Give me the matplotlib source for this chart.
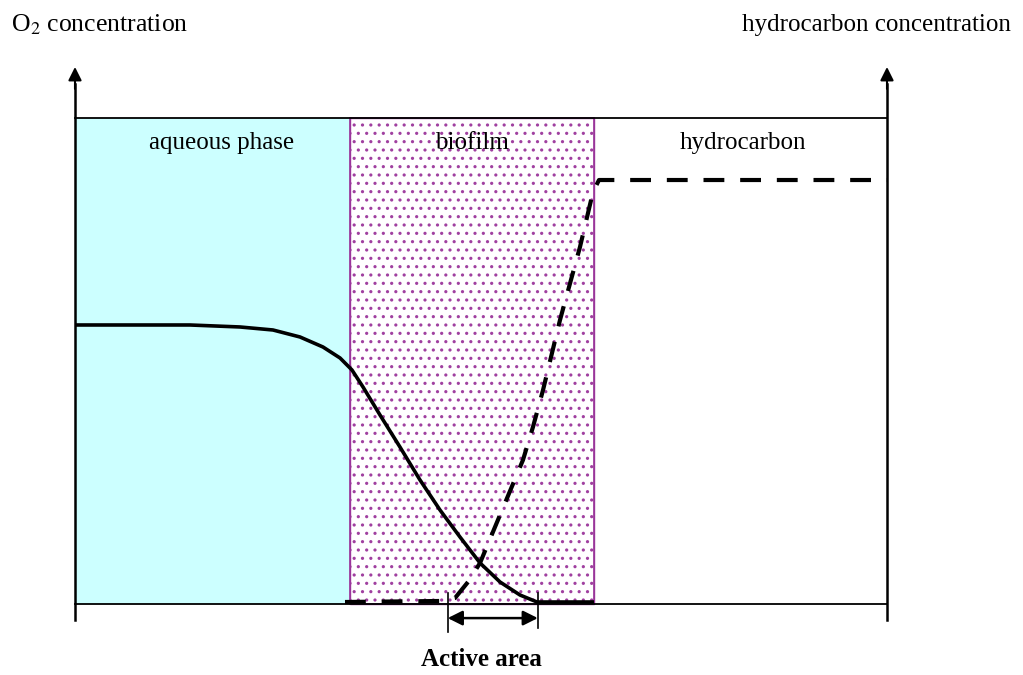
import numpy as np
import matplotlib.pyplot as plt
from matplotlib.patches import Rectangle

plt.rcParams['font.family'] = ['Liberation Serif', 'DejaVu Serif']
plt.rcParams['hatch.linewidth'] = 1.1

# depth position (0 = left axis, 1 = right axis), concentration (0 = bottom, 1 = top of box)
region_names = ["aqueous phase", "biofilm", "hydrocarbon"]
region_edges = [0.0, 0.339, 0.639, 1.0]

o2_x = [0.0, 0.1416, 0.2032, 0.2438, 0.2771, 0.3054, 0.3264, 0.3411, 0.3547, 0.3756,
        0.4002, 0.4249, 0.4495, 0.4741, 0.4988, 0.5234, 0.5480, 0.5690, 0.6392]
o2_y = [0.5741, 0.5741, 0.5700, 0.5638, 0.5494, 0.5288, 0.5062, 0.4815, 0.4465, 0.3889,
        0.3230, 0.2551, 0.1934, 0.1379, 0.0844, 0.0453, 0.0185, 0.0041, 0.0041]

hc_x = [0.3325, 0.4495, 0.468, 0.484, 0.4988, 0.5234, 0.5517, 0.5640, 0.5764, 0.5973,
        0.6219, 0.6379, 0.6453, 1.0]
hc_y = [0.0041, 0.0062, 0.0123, 0.0453, 0.0844, 0.1831, 0.2963, 0.3642, 0.4403, 0.5844,
        0.7346, 0.8477, 0.8724, 0.8724]

active_area = [0.459, 0.570]

fig = plt.figure(figsize=(10.23, 6.75), dpi=100)
ax = fig.add_axes([0, 0, 1, 1])
ax.set_xlim(-75 / 812, (1023 - 75) / 812)
ax.set_ylim(-71 / 486, (675 - 71) / 486)
ax.axis('off')

# regions
ax.add_patch(Rectangle((region_edges[0], 0), region_edges[1] - region_edges[0], 1,
                       facecolor='#CCFFFF', edgecolor='none', zorder=1))
ax.add_patch(Rectangle((region_edges[1], 0), region_edges[2] - region_edges[1], 1,
                       facecolor='white', edgecolor='#A040A0', hatch='..', linewidth=1, zorder=1))
ax.add_patch(Rectangle((region_edges[1], 0), region_edges[2] - region_edges[1], 1,
                       facecolor='none', edgecolor='#993399', linewidth=1.2, zorder=2))
label_x = [0.180, 0.489, 0.823]
for name, cx in zip(region_names, label_x):
    ax.text(cx, 0.948, name, ha='center', va='center', fontsize=18, zorder=5)

# box top and baseline
ax.plot([0, 1], [1, 1], color='black', lw=1.3, zorder=3)
ax.plot([0, 1], [0, 0], color='black', lw=1.3, zorder=3)

# axes with arrows
for xa in [0, 1]:
    ax.plot([xa, xa], [-0.033, 1.07], color='black', lw=1.8, zorder=4)
    ax.annotate('', xy=(xa, 1.105), xytext=(xa, 1.06),
                arrowprops=dict(arrowstyle='-|>', color='black', lw=1.5,
                                mutation_scale=20, shrinkA=0, shrinkB=0), zorder=4)

# concentration profiles
ax.plot(o2_x, o2_y, color='black', lw=2.6, solid_capstyle='butt', solid_joinstyle='round', zorder=6)
ax.plot(hc_x, hc_y, color='black', lw=3, dashes=(5, 3.8), zorder=6)

# active area marker
ax.plot([active_area[0]] * 2, [0.023, -0.058], color='black', lw=1.2, zorder=6)
ax.plot([active_area[1]] * 2, [0.023, -0.05], color='black', lw=1.2, zorder=6)
ax.annotate('', xy=(active_area[0], -0.029), xytext=(active_area[1], -0.029),
            arrowprops=dict(arrowstyle='<|-|>', color='black', lw=1.8,
                            mutation_scale=22, shrinkA=0, shrinkB=0), zorder=6)
ax.text(0.5, -0.115, "Active area", ha='center', va='center',
        fontsize=18, fontweight='bold')

# axis titles
fig.text(11 / 1023, 1 - 25 / 675, "O$_2$ concentration", ha='left', va='center', fontsize=18.5,
         math_fontfamily='stix')
fig.text(1011 / 1023, 1 - 25 / 675, "hydrocarbon concentration", ha='right', va='center', fontsize=18)

fig.savefig("out.png", dpi=100)
